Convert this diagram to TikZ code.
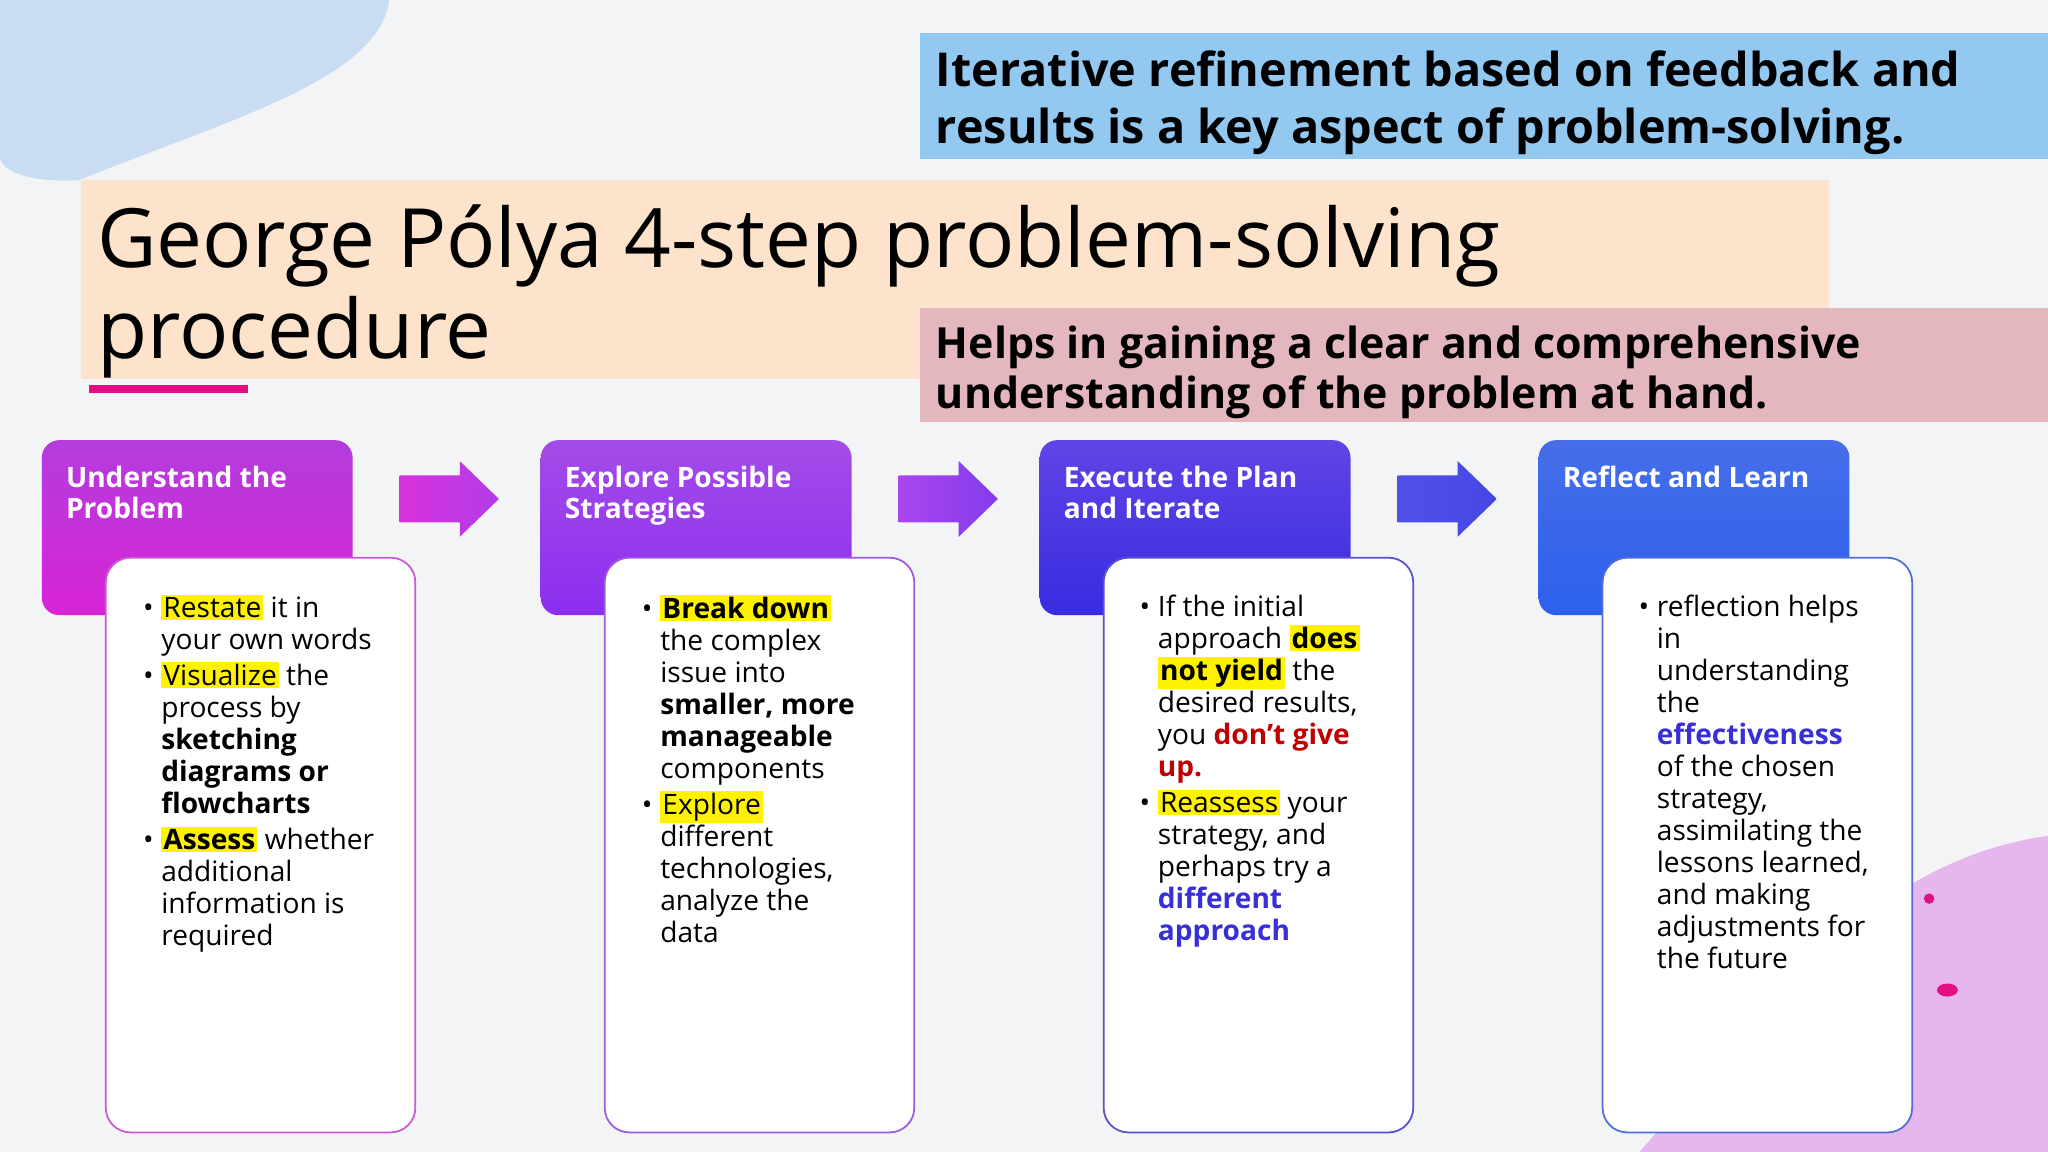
\documentclass[tikz,border=0pt]{standalone}
\usepackage{fontspec}
\setmainfont{Open Sans}
\usetikzlibrary{calc}
\definecolor{bg}{HTML}{F3F4F5}
\definecolor{blob}{HTML}{C9DCF2}
\definecolor{pblob}{HTML}{E6B6EE}
\definecolor{bluebar}{HTML}{93C9F0}
\definecolor{peach}{HTML}{FDE3CB}
\definecolor{pinkbar}{HTML}{E3B7BD}
\definecolor{hly}{HTML}{FFF200}
\definecolor{dred}{HTML}{C00000}
\definecolor{dblue}{HTML}{3A2FD6}
\newcommand{\hlt}[1]{{\setlength{\fboxsep}{0.6pt}\colorbox{hly}{#1}}}
\newcommand{\bul}{\makebox[0pt][r]{\textbullet\hspace{2.2pt}}}
\tikzset{
  body/.style={anchor=north west,inner sep=0pt,align=left,font=\fontsize{8}{9.1}\selectfont},
  head/.style={anchor=north west,inner sep=0pt,align=left,text=white,font=\bfseries\fontsize{8}{9}\selectfont},
  card/.style={draw,fill=white,rounded corners=7pt,line width=0.5pt},
}
\begin{document}
\begin{tikzpicture}[x=0.013061cm,y=-0.013061cm]
\fill[bg] (0,0) rectangle (1568,882);
\useasboundingbox (0,0) rectangle (1568,882);
% blobs
\begin{scope}
\clip (0,0) rectangle (1568,882);
\fill[blob] (0,0) -- (298,0) .. controls (290,60) and (180,90) .. (60,138) .. controls (20,140) and (0,130) .. (0,120) -- cycle;
\fill[pblob] (1255,882) .. controls (1330,800) and (1420,660) .. (1568,640) -- (1568,882) -- cycle;
\fill[white,opacity=0.5] (1425,765) ellipse (6 and 9);
\fill[white,opacity=0.5] (1445,728) ellipse (7 and 5);
\fill[white,opacity=0.5] (1395,750) ellipse (5 and 10);
\end{scope}
\fill[magenta!80!purple] (1477,688) circle (4);
\fill[magenta!80!purple] (1491,758) ellipse (8 and 5);
% banners
\fill[bluebar] (704,25) rectangle (1568,122);
\node[anchor=north west,inner sep=0pt,align=left,font=\bfseries\fontsize{13.3}{16.3}\selectfont] (b1) at (716,38) {Iterative refinement based on feedback and\\results is a key aspect of problem-solving.};
\fill[peach] (62,138) rectangle (1400,290);
\node[anchor=north west,inner sep=0pt,align=left,font=\fontsize{23.3}{26}\selectfont] (title) at (74,156) {George Pólya 4-step problem-solving\\procedure};
\draw[magenta!85!purple,line width=2.2pt] (68,298) -- (190,298);
\fill[pinkbar] (704,236) rectangle (1568,323);
\node[anchor=north west,inner sep=0pt,align=left,font=\bfseries\fontsize{12.2}{14.1}\selectfont] (b2) at (716,249) {Helps in gaining a clear and comprehensive\\understanding of the problem at hand.};
% headers
\shade[top color={rgb,255:red,180;green,60;blue,221},bottom color={rgb,255:red,216;green,36;blue,214},rounded corners=5pt] (32,337) rectangle (270,471);
\shade[top color={rgb,255:red,164;green,76;blue,232},bottom color={rgb,255:red,140;green,45;blue,240},rounded corners=5pt] (414,337) rectangle (652,471);
\shade[top color={rgb,255:red,96;green,68;blue,230},bottom color={rgb,255:red,56;green,44;blue,224},rounded corners=5pt] (796,337) rectangle (1034,471);
\shade[top color={rgb,255:red,70;green,110;blue,232},bottom color={rgb,255:red,44;green,96;blue,236},rounded corners=5pt] (1178,337) rectangle (1416,471);
\node[head] (h1) at (50,356) {Understand the\\Problem};
\node[head] (h2) at (432,356) {Explore Possible\\Strategies};
\node[head] (h3) at (814,356) {Execute the Plan\\and Iterate};
\node[head] (h4) at (1196,356) {Reflect and Learn};
% arrows
\foreach \x/\ca/\cb in {306/{rgb,255:red,214;green,50;blue,220}/{rgb,255:red,178;green,60;blue,230},
                        688/{rgb,255:red,170;green,70;blue,236}/{rgb,255:red,130;green,60;blue,238},
                        1070/{rgb,255:red,80;green,80;blue,232}/{rgb,255:red,70;green,70;blue,230}}{
  \shade[left color=\ca,right color=\cb] (\x,364) -- (\x+46,364) -- (\x+46,353) -- (\x+76,382) -- (\x+46,411) -- (\x+46,400) -- (\x,400) -- cycle;
}
% cards
\draw[card,draw={rgb,255:red,200;green,90;blue,210}] (81,427) rectangle (318,867);
\draw[card,draw={rgb,255:red,160;green,90;blue,220}] (463,427) rectangle (700,867);
\draw[card,draw={rgb,255:red,90;green,80;blue,210}] (845,427) rectangle (1082,867);
\draw[card,draw={rgb,255:red,80;green,110;blue,220}] (1227,427) rectangle (1464,867);
\node[body] (t1) at (123,455) {\bul\hlt{Restate} it in\\your own words\\[1.2pt]
\bul\hlt{Visualize} the\\process by\\\textbf{sketching}\\\textbf{diagrams or}\\\textbf{flowcharts}\\[1.2pt]
\bul\hlt{\textbf{Assess}} whether\\additional\\information is\\required};
\node[body] (t2) at (505,455) {\bul\hlt{\textbf{Break down}}\\the complex\\issue into\\\textbf{smaller, more}\\\textbf{manageable}\\components\\[1.2pt]
\bul\hlt{Explore}\\different\\technologies,\\analyze the\\data};
\node[body] (t3) at (886,455) {\bul If the initial\\approach \hlt{\textbf{does}}\\\hlt{\textbf{not yield}} the\\desired results,\\you \textcolor{dred}{\textbf{don't give}}\\\textcolor{dred}{\textbf{up.}}\\[1.2pt]
\bul\hlt{Reassess} your\\strategy, and\\perhaps try a\\\textcolor{dblue}{\textbf{different}}\\\textcolor{dblue}{\textbf{approach}}};
\node[body] (t4) at (1268,455) {\bul reflection helps\\in\\understanding\\the\\\textcolor{dblue}{\textbf{effectiveness}}\\of the chosen\\strategy,\\assimilating the\\lessons learned,\\and making\\adjustments for\\the future};
\end{tikzpicture}
\end{document}
